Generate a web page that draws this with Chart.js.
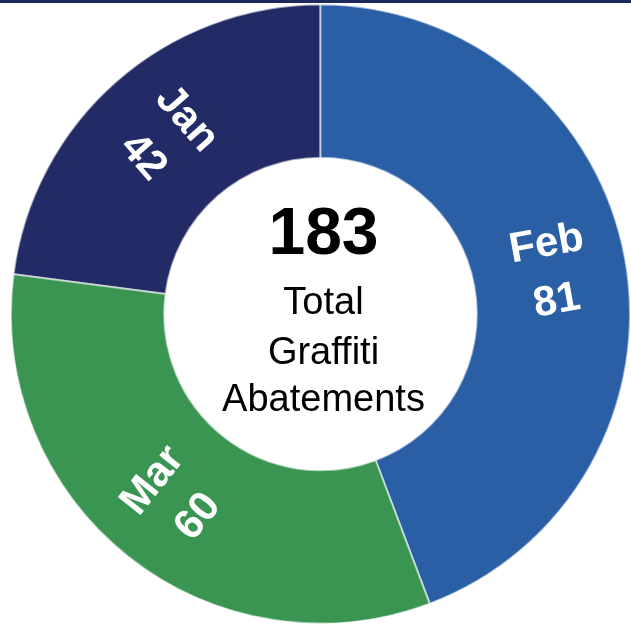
<!DOCTYPE html>
<html>
<head>
<meta charset="utf-8">
<script src="https://cdn.jsdelivr.net/npm/chart.js@4.4.0/dist/chart.umd.min.js"></script>
<style>
  html, body { margin: 0; padding: 0; background: #fff; }
  #wrap { position: relative; width: 631px; height: 628px; border-top: 3px solid #1f2a5c; box-sizing: border-box; }
</style>
</head>
<body>
<div id="wrap"><canvas id="canvas" width="631" height="625"></canvas></div>
<script>
const months = ['Jan', 'Feb', 'Mar'];
const abatements = [42, 81, 60];
const sliceColors = ['#222b65', '#2b5fa5', '#3a9552'];
const centerLines = ['Total', 'Graffiti', 'Abatements'];

const total = abatements.reduce((a, b) => a + b, 0);

// ラベルを扇形の中央に放射状に描く
const sliceLabels = {
  id: 'sliceLabels',
  afterDatasetsDraw(chart) {
    const ctx = chart.ctx;
    const meta = chart.getDatasetMeta(0);
    meta.data.forEach((arc, i) => {
      const mid = (arc.startAngle + arc.endAngle) / 2;
      const r = (arc.innerRadius + arc.outerRadius) / 2 + 2;
      const x = arc.x + Math.cos(mid) * r;
      const y = arc.y + Math.sin(mid) * r;
      let rot = mid;
      const norm = ((mid % (2 * Math.PI)) + 2 * Math.PI) % (2 * Math.PI);
      if (norm > Math.PI / 2 && norm < Math.PI * 1.5) rot += Math.PI;
      ctx.save();
      ctx.translate(x, y);
      ctx.rotate(rot);
      ctx.fillStyle = '#fff';
      ctx.font = 'bold 42px "Liberation Sans", Arial, sans-serif';
      ctx.textAlign = 'center';
      ctx.textBaseline = 'middle';
      ctx.fillText(months[i], 0, -28);
      ctx.fillText(String(abatements[i]), 0, 30);
      ctx.restore();
    });
  }
};

const centerText = {
  id: 'centerText',
  afterDraw(chart) {
    const ctx = chart.ctx;
    const arc = chart.getDatasetMeta(0).data[0];
    const cx = arc.x, cy = arc.y;
    ctx.save();
    ctx.fillStyle = '#000';
    ctx.textAlign = 'center';
    ctx.textBaseline = 'alphabetic';
    ctx.font = 'bold 66px "Liberation Sans", Arial, sans-serif';
    ctx.fillText(String(total), cx + 3, cy - 60);
    ctx.font = '38px "Liberation Sans", Arial, sans-serif';
    ctx.fillText(centerLines[0], cx + 3, cy);
    ctx.fillText(centerLines[1], cx + 3, cy + 50);
    ctx.fillText(centerLines[2], cx + 3, cy + 97);
    ctx.restore();
  }
};

new Chart(document.getElementById('canvas'), {
  type: 'doughnut',
  data: {
    labels: months,
    datasets: [{
      data: abatements,
      backgroundColor: sliceColors,
      borderColor: 'rgba(255,255,255,0.55)',
      borderWidth: 2,
    }]
  },
  options: {
    responsive: false,
    animation: false,
    cutout: '50.5%',
    rotation: -360 * abatements[0] / total,
    layout: { padding: { left: 10, right: -1, top: -1, bottom: 3 } },
    plugins: {
      legend: { display: false },
      tooltip: { enabled: false }
    }
  },
  plugins: [sliceLabels, centerText]
});
</script>
</body>
</html>
